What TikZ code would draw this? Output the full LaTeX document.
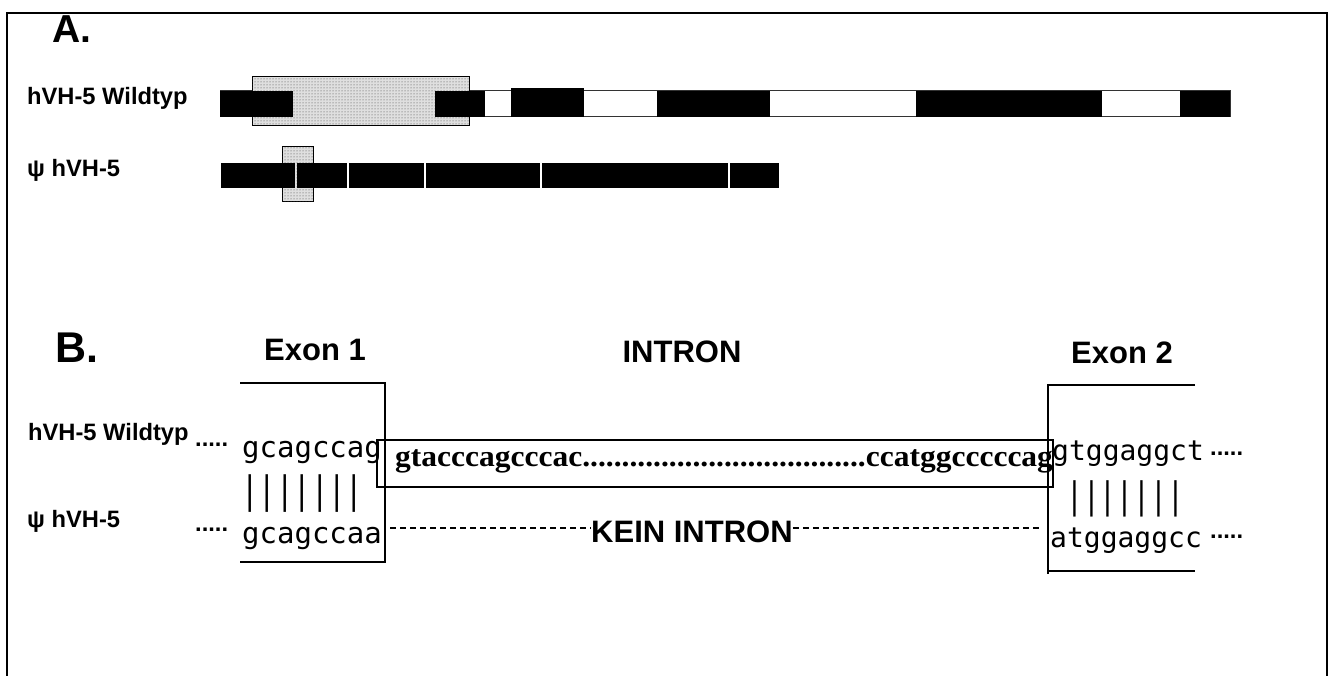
\documentclass[tikz,border=0pt]{standalone}
\usepackage{fontspec}
\setmainfont{Liberation Sans}
\newfontfamily\serifb{Liberation Serif}
\newfontfamily\seqmono{DejaVu Sans Mono}
\usetikzlibrary{patterns}
\newcommand\fsz[1]{\fontsize{#1}{#1}\selectfont}
\begin{document}
\begin{tikzpicture}[x=1pt,y=-1pt,
  lab/.style={anchor=base west, inner sep=0, font=\bfseries\fsz{23.7}},
  big/.style={anchor=base west, inner sep=0, font=\bfseries\fsz{43}},
  head/.style={anchor=base, inner sep=0, font=\bfseries\fsz{31}},
  seqa/.style={anchor=base west, inner sep=0, font=\seqmono\fsz{29}},
  seqb/.style={anchor=base west, inner sep=0, font=\seqmono\fsz{28}},
  stip/.style={draw=black, line width=1pt, fill=gray!25, postaction={pattern=dots, pattern color=black!75}},
  blk/.style={fill=black},
  wbar/.style={draw=black!80, line width=1pt, fill=white},
  thin/.style={line width=1.2pt},
  dashl/.style={line width=1.1pt, dash pattern=on 6pt off 4pt}]
\useasboundingbox (0,0) rectangle (1332,676);
% frame
\draw[line width=2pt] (7,676) -- (7,13) -- (1327,13) -- (1327,676);

% ---------- A ----------
\node[big, font=\bfseries\fsz{39}] (A) at (52,43) {A.};
\node[lab] (wtA) at (27,105) {hVH-5 Wildtyp};
\node[lab] (psA) at (27,177) {ψ hVH-5};

% wildtype bar
\draw[wbar] (220,91) rectangle (1230,117);
\draw[stip] (252,77) rectangle (469,126);
\fill[blk] (220,91) rectangle (293,117);
\fill[blk] (435,91) rectangle (485,117);
\fill[blk] (511,88) rectangle (584,117);
\fill[blk] (657,91) rectangle (770,117);
\fill[blk] (916,91) rectangle (1102,117);
\fill[blk] (1180,91) rectangle (1230,117);

% pseudo bar
\draw[stip] (282,147) rectangle (313,202);
\fill[blk] (221,163) rectangle (295,188);
\fill[blk] (297,163) rectangle (347,188);
\fill[blk] (349,163) rectangle (424,188);
\fill[blk] (426,163) rectangle (540,188);
\fill[blk] (542,163) rectangle (728,188);
\fill[blk] (730,163) rectangle (779,188);

% ---------- B ----------
\node[big] (B) at (55,362) {B.};
\node[head] (ex1) at (315,360) {Exon 1};
\node[head] (intr) at (682,362) {INTRON};
\node[head] (ex2) at (1122,363) {Exon 2};

\node[lab] (wtB) at (28,440) {hVH-5 Wildtyp};
\node[lab] (wtBd) at (195,446) {.....};
\node[lab] (psB) at (27,527) {ψ hVH-5};
\node[lab] (psBd) at (195,531) {.....};

% exon 1 bracket
\draw[thin] (240,383) -- (385,383) -- (385,563);
\draw[thin] (240,562) -- (385,562);
% exon 2 bracket
\draw[thin] (1195,385) -- (1048,385) -- (1048,574);
\draw[thin] (1048,571) -- (1195,571);
% intron box
\draw[thin] (377,440) rectangle (1053,487);

\node[seqa] (s1) at (242,457) {gcagccag};
\node[seqa] (b1) at (241,503) {\scalebox{1}[1.3]{|||||||}};
\node[seqa] (s2) at (242,543) {gcagccaa};

\node[anchor=base west, inner sep=0, font=\serifb\bfseries\fsz{30}] (intseq) at (395,466)
  {\scalebox{1.05}[1]{gtacccagcccac....................................ccatggcccccag}};

\node[seqb] (s3) at (1052,460) {gtggaggct};
\node[seqb] (b2) at (1066,508) {\scalebox{1}[1.3]{|||||||}};
\node[seqb] (s4) at (1050,547) {atggaggcc};
\node[lab] (s3d) at (1210,455) {.....};
\node[lab] (s4d) at (1210,538) {.....};

\node[anchor=base west, inner sep=0, font=\bfseries\fsz{31}] (kein) at (591,542) {KEIN INTRON};
\coordinate (dl) at (390,528);
\coordinate (dr) at (1040,528);
\draw[dashl] (dl) -- (dl -| kein.west);
\draw[dashl] (dr -| kein.east) -- (dr);
\end{tikzpicture}
\end{document}
